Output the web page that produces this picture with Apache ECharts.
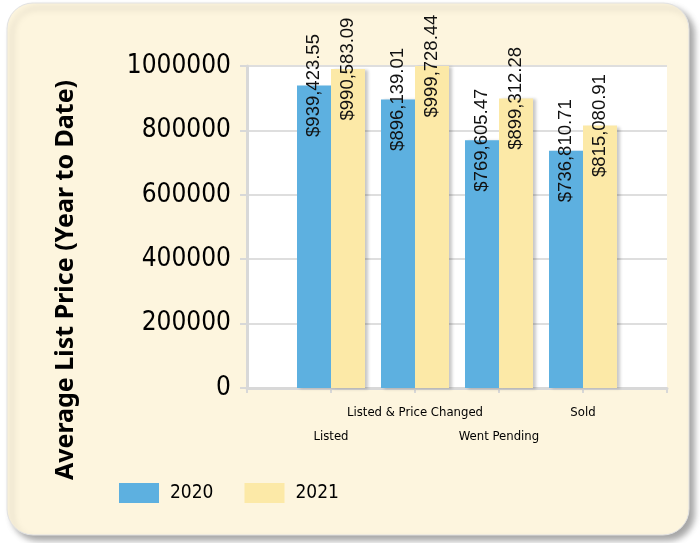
<!DOCTYPE html>
<html>
<head>
<meta charset="utf-8">
<script src="https://cdn.jsdelivr.net/npm/echarts@6/dist/echarts.min.js"></script>
<style>
  html, body { margin: 0; padding: 0; background: #ffffff; }
  #main { width: 700px; height: 543px; }
</style>
</head>
<body>
<div id="main"></div>
<script>
// categories (padded with empty slots so the bars sit on the ticks)
var categories = ['Listed', 'Listed & Price Changed', 'Went Pending', 'Sold'];
var years = ['2020', '2021'];
var values2020 = [939423.55, 896139.01, 769605.47, 736810.71];
var values2021 = [990583.09, 999728.44, 899312.28, 815080.91];
var yTitle = 'Average List Price (Year to Date)';

var Blue = '#5db0e0';
var Yellow = '#fce9a7';
var Paper = '#fdf5de';
var AxisGrey = '#d8d8d8';
var LabelFont = "'DejaVu Sans Condensed', 'Noto Sans', sans-serif";

function pad(arr) {
  return ['-'].concat(arr).concat(['-']);
}

function money(v) {
  return '$' + v.toLocaleString('en-US', { minimumFractionDigits: 2, maximumFractionDigits: 2 });
}

var chart = echarts.init(document.getElementById('main'), null, { renderer: 'canvas' });

var barLabel = {
  show: true,
  position: 'top',
  distance: 0,
  rotate: 90,
  align: 'center',
  verticalAlign: 'middle',
  fontFamily: "'Liberation Sans', Arial, sans-serif",
  fontSize: 18.5,
  color: '#111',
  formatter: function (p) { return money(p.value); }
};

var barShadow = {
  shadowColor: 'rgba(0,0,0,0.22)',
  shadowBlur: 3,
  shadowOffsetX: 3,
  shadowOffsetY: 1
};

var option = {
  backgroundColor: '#ffffff',
  animation: false,
  graphic: [
    {
      type: 'rect',
      z: -10,
      shape: { x: 7, y: 3, width: 682, height: 532, r: 26 },
      style: {
        fill: Paper,
        stroke: '#e2e2e2',
        lineWidth: 1,
        shadowColor: 'rgba(0,0,0,0.35)',
        shadowBlur: 6,
        shadowOffsetX: 5,
        shadowOffsetY: 5
      }
    },
    {
      type: 'text',
      x: 66,
      y: 280,
      rotation: Math.PI / 2,
      style: {
        text: yTitle,
        fontFamily: "'Noto Sans', sans-serif",
        fontWeight: 'bold',
        fontSize: 25,
        fill: '#000',
        align: 'center',
        verticalAlign: 'middle'
      }
    }
  ],
  grid: {
    left: 247,
    right: 33,
    top: 66,
    bottom: 155,
    show: true,
    backgroundColor: '#ffffff',
    borderWidth: 0
  },
  legend: {
    left: 119,
    top: 483,
    padding: 0,
    itemWidth: 40,
    itemHeight: 20,
    itemGap: 31,
    icon: 'rect',
    data: years,
    textStyle: {
      fontFamily: LabelFont,
      fontSize: 19,
      color: '#000',
      padding: [0, 0, 0, 6]
    }
  },
  xAxis: {
    type: 'category',
    boundaryGap: false,
    data: pad(categories).map(function (c) { return c === '-' ? '' : c; }),
    axisLine: { lineStyle: { color: AxisGrey, width: 3 } },
    axisTick: { show: true, interval: 0, length: 5, lineStyle: { color: AxisGrey, width: 2 } },
    splitLine: { show: false },
    axisLabel: {
      interval: 0,
      margin: 13,
      fontFamily: LabelFont,
      fontSize: 13,
      lineHeight: 24,
      color: '#000',
      formatter: function (v, i) {
        return (i % 2 === 1) ? '\n' + v : v;
      }
    }
  },
  yAxis: {
    type: 'value',
    min: 0,
    max: 1000000,
    interval: 200000,
    axisLine: { show: true, lineStyle: { color: AxisGrey, width: 3 } },
    axisTick: { show: true, length: 7, lineStyle: { color: AxisGrey, width: 2 } },
    splitLine: { lineStyle: { color: '#dedede', width: 2 } },
    axisLabel: {
      margin: 16,
      fontFamily: LabelFont,
      fontSize: 26,
      color: '#000',
      formatter: function (v) { return String(v); }
    }
  },
  series: [
    {
      name: years[0],
      type: 'bar',
      barWidth: 34,
      barGap: '0%',
      itemStyle: Object.assign({ color: Blue }, barShadow),
      label: barLabel,
      data: pad(values2020)
    },
    {
      name: years[1],
      type: 'bar',
      barWidth: 34,
      barGap: '0%',
      itemStyle: Object.assign({ color: Yellow }, barShadow),
      label: barLabel,
      data: pad(values2021)
    }
  ]
};

chart.setOption(option);
</script>
</body>
</html>
